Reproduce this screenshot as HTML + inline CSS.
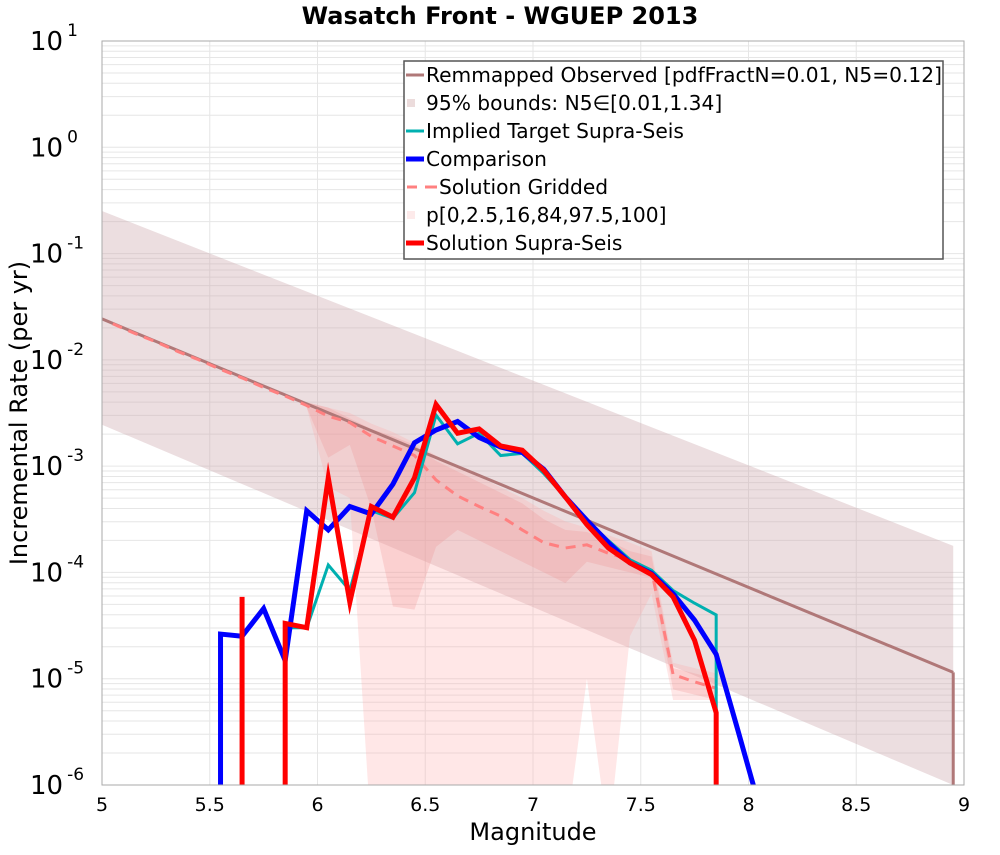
<!DOCTYPE html>
<html><head><meta charset="utf-8"><style>
body{margin:0;background:#fff;font-family:"Liberation Sans","DejaVu Sans",sans-serif}
svg text{font-family:"DejaVu Sans","Liberation Sans",sans-serif}
</style></head><body>
<svg id="chart" width="1000" height="850" viewBox="0 0 1000 850" xmlns="http://www.w3.org/2000/svg">
<defs><clipPath id="plotclip"><rect x="102" y="41" width="862" height="744"/></clipPath></defs>
<text x="500" y="24" text-anchor="middle" font-size="24" font-weight="bold">Wasatch Front - WGUEP 2013</text>
<g id="grid"></g>
<g id="marks" clip-path="url(#plotclip)"></g>
<rect x="102" y="41" width="862" height="744" fill="none" stroke="#aaa" stroke-width="1"/>
<g id="axes"></g>
<text x="533" y="840" text-anchor="middle" font-size="24">Magnitude</text>
<text transform="translate(27,413) rotate(-90)" text-anchor="middle" font-size="24">Incremental Rate (per yr)</text>
<g id="legend"></g>
</svg>
<script>
const mags=[5.05,5.15,5.25,5.35,5.45,5.55,5.65,5.75,5.85,5.95,6.05,6.15,6.25,6.35,6.45,6.55,6.65,6.75,6.85,6.95,7.05,7.15,7.25,7.35,7.45,7.55,7.65,7.75,7.85,7.95,8.05];
// log10 rates; null = zero
const comparison=[null,null,null,null,null,-4.58,-4.60,-4.34,-4.83,-3.42,-3.60,-3.38,-3.45,-3.17,-2.78,-2.66,-2.58,-2.73,-2.82,-2.87,-3.03,-3.29,-3.51,-3.72,-3.91,-4.01,-4.20,-4.45,-4.77,-5.48,-6.2];
const impliedTarget=[null,null,null,null,null,null,null,null,-4.52,-4.52,-3.93,-4.17,-3.42,-3.49,-3.25,-2.52,-2.79,-2.69,-2.90,-2.88,-3.07,-3.29,-3.51,-3.70,-3.88,-3.98,-4.17,-4.29,-4.40,null,null];
const solutionSupra=[null,null,null,null,null,null,-4.23,null,-4.48,-4.52,-3.11,-4.28,-3.38,-3.48,-3.11,-2.42,-2.69,-2.65,-2.81,-2.85,-3.04,-3.29,-3.55,-3.77,-3.91,-4.02,-4.23,-4.64,-5.32,null,null];
const solutionGridded=[-1.66,-1.75,-1.83,-1.92,-2.00,-2.09,-2.17,-2.26,-2.34,-2.43,-2.53,-2.59,-2.72,-2.81,-2.90,-3.13,-3.28,-3.38,-3.47,-3.60,-3.72,-3.77,-3.74,-3.82,-3.88,-3.98,-4.96,-5.03,-5.09,null,null];
const band16Lo=[null,null,null,null,null,null,null,null,null,-2.45,-2.92,-2.80,-3.4,-4.32,-4.35,-3.76,-3.6,-3.7,-3.8,-3.9,-4.0,-4.1,-3.9,-3.95,-4.0,-4.05,-5.1,-5.15,-5.2,null,null];
const band16Hi=[null,null,null,null,null,null,null,null,null,-2.40,-2.45,-2.55,-2.65,-2.72,-2.80,-2.95,-3.05,-3.15,-3.25,-3.35,-3.50,-3.60,-3.62,-3.70,-3.80,-3.85,-4.90,-4.95,-5.0,null,null];
const bandAllLo=[null,null,null,null,null,null,null,null,null,-2.45,-3.2,-3.3,-6.5,-6.5,-6.5,-6.5,-6.5,-6.5,-6.5,-6.5,-6.5,-6.5,-5.0,-6.5,-4.6,-4.2,-5.2,-5.2,-5.2,null,null];
const bandAllHi=[null,null,null,null,null,null,null,null,null,-2.40,-2.45,-2.50,-2.60,-2.68,-2.78,-2.90,-3.0,-3.1,-3.2,-3.3,-3.42,-3.52,-3.58,-3.65,-3.72,-3.80,-4.85,-4.9,-4.95,null,null];
const obsMags=[5,8.95];
const observed=[-1.615,-4.94];
const obsBoundHi=[-0.60,-3.75];
const obsBoundLo=[-2.61,-6.0];
const xTicks=[5,5.5,6,6.5,7,7.5,8,8.5,9];
const xTickLabels=["5","5.5","6","6.5","7","7.5","8","8.5","9"];
const yTicks=[1,0,-1,-2,-3,-4,-5,-6];

const NS="http://www.w3.org/2000/svg";
const X0=102,X1=964,Y0=41,Y1=785;
const xs=m=>X0+(m-5)/4*(X1-X0);
const ys=l=>Y0+(1-Math.max(l,-6.6))/7*(Y1-Y0);
function mk(tag,attrs,parent){const e=document.createElementNS(NS,tag);for(const k in attrs)e.setAttribute(k,attrs[k]);parent.appendChild(e);return e;}
const grid=document.getElementById('grid'),marks=document.getElementById('marks'),axes=document.getElementById('axes'),leg=document.getElementById('legend');
for(let d=-6;d<1;d++)for(let k=1;k<10;k++){const y=ys(d+Math.log10(k));const l=mk('line',{x1:X0,x2:X1,y1:y,y2:y,stroke:'#e6e6e6','stroke-width':1},grid);}
xTicks.forEach(t=>{const l=mk('line',{x1:xs(t),x2:xs(t),y1:Y0,y2:Y1,stroke:'#e6e6e6','stroke-width':1},grid);});
function bandPoly(xa,lo,hi,fill,name){let top=[],bot=[];xa.forEach((m,i)=>{if(lo[i]==null||hi[i]==null)return;top.push(xs(m)+','+ys(hi[i]));bot.unshift(xs(m)+','+ys(lo[i]));});const p=mk('polygon',{points:top.concat(bot).join(' '),fill:fill},marks);}
bandPoly(obsMags,obsBoundLo,obsBoundHi,'rgba(200,160,165,0.35)','observed-95-bounds');
bandPoly(mags,bandAllLo,bandAllHi,'rgba(255,170,170,0.28)','percentile-band-outer');
bandPoly(mags,band16Lo,band16Hi,'rgba(240,140,140,0.25)','percentile-band-inner');
function line(xa,vals,stroke,w,name,dash){let pts=[];const bot=ys(-6.6);xa.forEach((m,i)=>{const v=vals[i];if(v==null)return;const x=xs(m);const prevNull=i==0||vals[i-1]==null,nextNull=i==vals.length-1||vals[i+1]==null;
if(prevNull&&i>0)pts.push(x+','+bot);pts.push(x+','+ys(v));if(nextNull&&i<vals.length-1)pts.push(x+','+bot);});
const a={points:pts.join(' '),fill:'none',stroke:stroke,'stroke-width':w,'stroke-linejoin':'miter','stroke-miterlimit':20};if(dash)a['stroke-dasharray']=dash;const p=mk('polyline',a,marks);}
line(obsMags,observed,'#b07878',3,'remapped-observed-line');
{const l=mk('line',{x1:xs(8.95),x2:xs(8.95),y1:ys(observed[1]),y2:Y1,stroke:'#b07878','stroke-width':3},marks);}
line(mags,solutionGridded,'#ff8080',3,'solution-gridded-line','10,7');
line(mags,impliedTarget,'#00b0b0',3,'implied-target-line');
line(mags,comparison,'#0000ff',5,'comparison-line');
line(mags,solutionSupra,'#ff0000',5,'solution-supra-line');
xTicks.forEach((t,i)=>{const e=mk('text',{x:xs(t),y:811,'text-anchor':'middle','font-size':19},axes);e.textContent=xTickLabels[i];});
yTicks.forEach(t=>{const e=mk('text',{x:30,y:ys(t)+9,'font-size':26},axes);e.textContent='10';const s=mk('tspan',{dy:-14,'font-size':17,dx:4},e);s.textContent=String(t);});
mk('rect',{x:404,y:61,width:539,height:198,fill:'#fff',stroke:'#555','stroke-width':1.5},leg);
const legLabels=["Remmapped Observed [pdfFractN=0.01, N5=0.12]","95% bounds: N5∈[0.01,1.34]","Implied Target Supra-Seis","Comparison","Solution Gridded","p[0,2.5,16,84,97.5,100]","Solution Supra-Seis"];
const legStyles=[['line','#b07878',3],['box','#ecdcdc'],['line','#00b0b0',3],['line','#0000ff',5],['dash','#ff8080',3],['box','#fdeaea'],['line','#ff0000',5]];
legLabels.forEach((lab,i)=>{const y=75+i*28;const st=legStyles[i];
if(st[0]=='line'){const l=mk('line',{x1:406,x2:424,y1:y,y2:y,stroke:st[1],'stroke-width':st[2]},leg);}
else if(st[0]=='dash'){const l=mk('line',{x1:407,x2:417,y1:y,y2:y,stroke:st[1],'stroke-width':3},leg);const l2=mk('line',{x1:425,x2:437,y1:y,y2:y,stroke:st[1],'stroke-width':3},leg);}
else{const r=mk('rect',{x:407,y:y-4,width:8,height:8,fill:st[1]},leg);}
const t=mk('text',{x:st[0]=='dash'?439:426,y:y+7,'font-size':20.2},leg);t.textContent=lab;});
</script>
</body></html>
